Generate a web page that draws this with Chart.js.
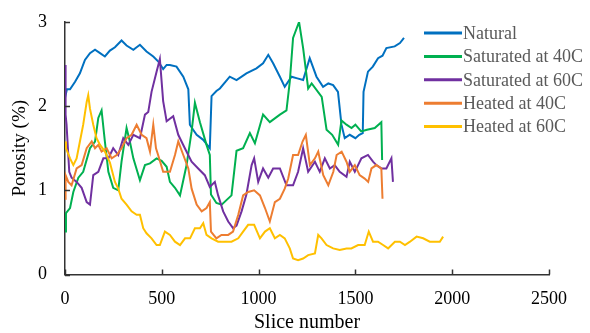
<!DOCTYPE html>
<html>
<head>
<meta charset="utf-8">
<script src="https://cdn.jsdelivr.net/npm/chart.js@4"></script>
<style>
    html, body { margin: 0; padding: 0; background: #fff; }
    #wrap { width: 590px; height: 333px; position: relative; }
</style>
</head>
<body>
<div id="wrap"><canvas id="graficoPorosidad"></canvas></div>
<script>
// Datos (slice number / porosity %)
const seriesNames = ['Natural', 'Saturated at 40C', 'Saturated at 60C', 'Heated at 40C', 'Heated at 60C'];
const seriesColors = ['#0070C0', '#00B050', '#7030A0', '#ED7D31', '#FFC000'];
const xTicks = [0, 500, 1000, 1500, 2000, 2500];
const yTicks = [0, 1, 2, 3];

const naturalX = [0, 10, 26, 52, 77, 103, 129, 155, 181, 206, 232, 258, 292, 318, 353, 387, 421, 456, 482, 507, 525, 542, 576, 611, 637, 645, 662, 680, 714, 748, 757, 782, 800, 851, 886, 937, 989, 1023, 1050, 1075, 1110, 1135, 1170, 1200, 1230, 1264, 1299, 1333, 1360, 1385, 1410, 1428, 1445, 1471, 1500, 1520, 1538, 1542, 1565, 1590, 1617, 1640, 1660, 1703, 1730, 1751];
const naturalY = [2.1, 2.2, 2.2, 2.29, 2.39, 2.55, 2.63, 2.67, 2.63, 2.59, 2.66, 2.7, 2.78, 2.72, 2.67, 2.73, 2.65, 2.59, 2.53, 2.44, 2.49, 2.49, 2.47, 2.35, 2.2, 1.78, 1.72, 1.66, 1.6, 1.5, 2.12, 2.18, 2.21, 2.35, 2.31, 2.39, 2.45, 2.51, 2.61, 2.51, 2.35, 2.23, 2.35, 2.33, 2.31, 2.57, 2.35, 2.23, 2.27, 2.25, 2.17, 1.78, 1.62, 1.66, 1.62, 1.66, 1.68, 2.17, 2.41, 2.47, 2.57, 2.6, 2.69, 2.71, 2.75, 2.81];

const sat40X = [0, 5, 26, 43, 69, 94, 129, 155, 172, 189, 206, 224, 249, 275, 292, 318, 335, 353, 387, 413, 439, 473, 499, 525, 542, 568, 594, 628, 654, 671, 697, 731, 748, 754, 782, 809, 860, 886, 920, 955, 981, 1023, 1058, 1110, 1144, 1161, 1178, 1209, 1230, 1256, 1274, 1326, 1351, 1380, 1411, 1428, 1454, 1480, 1500, 1530, 1560, 1600, 1634, 1638];
const sat40Y = [0.51, 0.73, 0.79, 0.98, 1.15, 1.22, 1.5, 1.58, 1.86, 1.95, 1.58, 1.22, 1.03, 1.0, 1.34, 1.74, 1.58, 1.38, 1.12, 1.3, 1.32, 1.38, 1.35, 1.28, 1.1, 1.03, 0.94, 1.3, 1.7, 2.04, 1.81, 1.54, 1.42, 0.95, 0.85, 0.83, 0.94, 1.47, 1.5, 1.68, 1.56, 1.9, 1.81, 1.9, 1.95, 2.29, 2.81, 3.0, 2.69, 2.21, 2.27, 2.11, 1.72, 1.66, 1.54, 1.83, 1.78, 1.74, 1.78, 1.7, 1.72, 1.74, 1.81, 1.36];

const sat60X = [0, 3, 8, 22, 34, 60, 86, 112, 129, 146, 172, 198, 224, 249, 275, 301, 327, 353, 387, 413, 430, 447, 473, 490, 507, 525, 559, 585, 619, 654, 688, 722, 748, 774, 791, 817, 843, 868, 886, 912, 937, 964, 977, 998, 1023, 1050, 1075, 1110, 1144, 1178, 1204, 1230, 1256, 1291, 1316, 1342, 1368, 1393, 1419, 1454, 1471, 1497, 1531, 1565, 1591, 1608, 1634, 1660, 1686, 1694];
const sat60Y = [2.49, 1.9, 1.78, 1.22, 1.15, 1.1, 1.03, 0.86, 0.83, 1.18, 1.22, 1.38, 1.38, 1.5, 1.42, 1.62, 1.54, 1.66, 1.62, 1.9, 1.93, 2.17, 2.41, 2.56, 2.06, 1.82, 1.88, 1.66, 1.5, 1.34, 1.26, 1.18, 1.04, 1.1, 0.94, 0.75, 0.63, 0.55, 0.58, 0.75, 0.95, 1.3, 1.38, 1.1, 1.26, 1.15, 1.26, 1.26, 1.06, 1.06, 1.22, 1.5, 1.22, 1.34, 1.22, 1.38, 1.26, 1.3, 1.22, 1.16, 1.34, 1.22, 1.38, 1.42, 1.34, 1.3, 1.26, 1.26, 1.38, 1.1];

const heat40X = [0, 3, 17, 34, 60, 86, 112, 138, 155, 172, 189, 215, 241, 267, 292, 318, 344, 370, 396, 421, 439, 456, 470, 481, 507, 542, 568, 585, 611, 637, 654, 680, 706, 731, 748, 754, 782, 808, 843, 868, 895, 920, 946, 977, 1007, 1033, 1058, 1084, 1110, 1135, 1153, 1178, 1204, 1227, 1244, 1265, 1291, 1308, 1334, 1360, 1386, 1403, 1429, 1454, 1471, 1497, 1522, 1548, 1566, 1583, 1608, 1634, 1640];
const heat40Y = [0.9, 1.18, 1.1, 1.06, 1.26, 1.3, 1.5, 1.58, 1.5, 1.54, 1.46, 1.5, 1.38, 1.42, 1.5, 1.62, 1.66, 1.78, 1.66, 1.62, 1.46, 1.78, 1.5, 1.42, 1.22, 1.22, 1.42, 1.58, 1.42, 1.26, 1.02, 0.83, 0.75, 0.79, 0.86, 0.51, 0.43, 0.47, 0.47, 0.51, 0.71, 0.94, 0.98, 1.0, 0.94, 0.79, 0.63, 0.86, 0.9, 1.02, 1.14, 1.42, 1.42, 1.58, 1.66, 1.3, 1.38, 1.46, 1.18, 1.06, 1.22, 1.42, 1.46, 1.34, 1.22, 1.3, 1.18, 1.14, 1.1, 1.26, 1.3, 1.26, 0.9];

const heat60X = [0, 5, 26, 43, 60, 77, 94, 112, 120, 129, 146, 163, 181, 206, 232, 258, 275, 292, 318, 344, 370, 387, 404, 421, 447, 473, 490, 516, 542, 568, 594, 620, 646, 671, 697, 714, 731, 757, 791, 826, 860, 895, 920, 946, 977, 1007, 1033, 1058, 1084, 1110, 1135, 1161, 1178, 1204, 1230, 1256, 1291, 1308, 1325, 1351, 1385, 1419, 1454, 1479, 1514, 1548, 1569, 1591, 1617, 1643, 1669, 1704, 1730, 1756, 1782, 1816, 1850, 1884, 1910, 1936, 1953];
const heat60Y = [1.58, 1.5, 1.38, 1.3, 1.38, 1.58, 1.78, 2.05, 2.13, 1.97, 1.78, 1.62, 1.54, 1.46, 1.33, 1.1, 1.02, 0.9, 0.83, 0.75, 0.71, 0.71, 0.55, 0.49, 0.43, 0.35, 0.35, 0.51, 0.47, 0.39, 0.35, 0.43, 0.43, 0.55, 0.55, 0.61, 0.47, 0.43, 0.39, 0.39, 0.39, 0.43, 0.51, 0.59, 0.59, 0.43, 0.51, 0.55, 0.43, 0.47, 0.43, 0.31, 0.19, 0.17, 0.19, 0.23, 0.25, 0.47, 0.43, 0.35, 0.31, 0.29, 0.31, 0.31, 0.35, 0.35, 0.51, 0.39, 0.39, 0.35, 0.31, 0.39, 0.39, 0.35, 0.39, 0.45, 0.43, 0.39, 0.39, 0.39, 0.45];

const seriesX = [naturalX, sat40X, sat60X, heat40X, heat60X];
const seriesY = [naturalY, sat40Y, sat60Y, heat40Y, heat60Y];

const fuente = 'Liberation Serif, Times New Roman, serif';

// Marcas de eje hacia adentro
const ticksAdentro = {
    id: 'ticksAdentro',
    afterDraw(chart) {
        const { ctx, scales: { x, y } } = chart;
        ctx.save();
        ctx.strokeStyle = '#333';
        ctx.lineWidth = 1.5;
        xTicks.forEach(v => {
            const px = Math.round(x.getPixelForValue(v)) + 0.5;
            ctx.beginPath();
            ctx.moveTo(px, y.bottom);
            ctx.lineTo(px, y.bottom - 5);
            ctx.stroke();
        });
        yTicks.forEach(v => {
            const py = Math.round(y.getPixelForValue(v)) + 0.5;
            ctx.beginPath();
            ctx.moveTo(x.left, py);
            ctx.lineTo(x.left + 5, py);
            ctx.stroke();
        });
        ctx.restore();
    }
};

// Leyenda dentro del area del grafico (lado derecho)
const leyenda = {
    id: 'leyenda',
    afterDraw(chart) {
        const { ctx, chartArea } = chart;
        const x0 = chartArea.right - 125;
        const y0 = chartArea.top + 11;
        ctx.save();
        ctx.font = '18px ' + fuente;
        ctx.textBaseline = 'middle';
        ctx.fillStyle = '#595959';
        chart.data.datasets.forEach((ds, i) => {
            const yy = y0 + i * 23.4;
            ctx.strokeStyle = ds.borderColor;
            ctx.lineWidth = 3;
            ctx.beginPath();
            ctx.moveTo(x0, yy);
            ctx.lineTo(x0 + 38, yy);
            ctx.stroke();
            ctx.fillText(ds.label, x0 + 39, yy + 1);
        });
        ctx.restore();
    }
};

const graficoPorosidad = document.getElementById('graficoPorosidad');
new Chart(graficoPorosidad, {
    type: 'line',
    data: {
        datasets: seriesNames.map((name, i) => ({
            label: name,
            data: seriesX[i].map((sx, k) => ({ x: sx, y: seriesY[i][k] })),
            borderColor: seriesColors[i],
            backgroundColor: seriesColors[i],
            borderWidth: 2,
            pointRadius: 0,
            tension: 0,
            fill: false,
            order: seriesNames.length - i
        }))
    },
    options: {
        responsive: true,
        maintainAspectRatio: false,
        animation: false,
        devicePixelRatio: 1,
        layout: { padding: { left: 0, right: 41, top: 22, bottom: 0 } },
        plugins: {
            legend: { display: false },
            tooltip: { enabled: false }
        },
        scales: {
            x: {
                type: 'linear',
                min: 0,
                max: 2500,
                afterBuildTicks: s => { s.ticks = xTicks.map(v => ({ value: v })); },
                afterFit: s => { s.height = 58.5; },
                grid: { display: false, drawTicks: false },
                border: { display: true, color: '#333', width: 1.5 },
                ticks: { color: '#000', padding: 14, maxRotation: 0, font: { family: fuente, size: 18 }, callback: v => String(v) },
                title: { display: true, text: 'Slice number', color: '#000', padding: 0, font: { family: fuente, size: 20, lineHeight: 1 } }
            },
            y: {
                type: 'linear',
                min: 0,
                max: 3,
                afterBuildTicks: s => { s.ticks = yTicks.map(v => ({ value: v })); },
                afterFit: s => { s.width = 65; },
                grid: { display: false, drawTicks: false },
                border: { display: true, color: '#333', width: 1.5 },
                ticks: { color: '#000', padding: 18, font: { family: fuente, size: 18, lineHeight: 0.4 }, callback: v => String(v) },
                title: { display: true, text: 'Porosity (%)', color: '#000', padding: { top: 11, bottom: 0 }, font: { family: fuente, size: 19, lineHeight: 1 } }
            }
        }
    },
    plugins: [ticksAdentro, leyenda]
});
</script>
</body>
</html>
